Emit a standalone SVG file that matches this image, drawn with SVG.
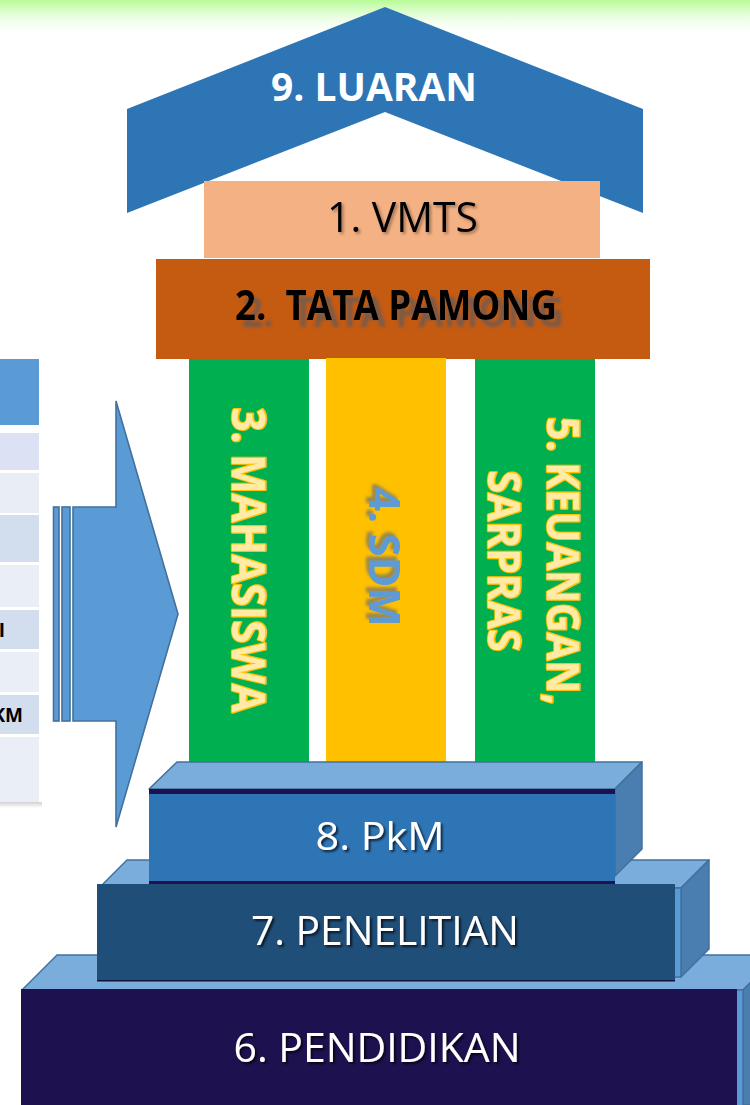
<svg xmlns="http://www.w3.org/2000/svg" width="750" height="1105" viewBox="0 0 750 1105">
  <defs>
    <linearGradient id="topGlow" x1="0" y1="0" x2="0" y2="1">
      <stop offset="0" stop-color="#b6fb96"/>
      <stop offset="1" stop-color="#ffffff" stop-opacity="0"/>
    </linearGradient>
    <linearGradient id="tblShadow" x1="0" y1="0" x2="0" y2="1">
      <stop offset="0" stop-color="#000000" stop-opacity="0.18"/>
      <stop offset="1" stop-color="#000000" stop-opacity="0"/>
    </linearGradient>
    <filter id="shadowDark" x="-10%" y="-30%" width="120%" height="160%">
      <feDropShadow dx="2" dy="2" stdDeviation="1.2" flood-color="#000000" flood-opacity="0.7"/>
    </filter>
    <filter id="shadowSoft" x="-10%" y="-30%" width="120%" height="160%">
      <feDropShadow dx="2" dy="2" stdDeviation="1.5" flood-color="#000000" flood-opacity="0.35"/>
    </filter>
    <filter id="ghostShadow" x="-10%" y="-30%" width="130%" height="180%">
      <feDropShadow dx="7" dy="7" stdDeviation="1.8" flood-color="#6b5a52" flood-opacity="0.8"/>
    </filter>
    <filter id="sdmShadow" x="-20%" y="-40%" width="140%" height="180%">
      <feDropShadow dx="-4" dy="3" stdDeviation="1.6" flood-color="#6f6f6f" flood-opacity="0.7"/>
    </filter>
  </defs>
  <style>
    .txt { font-family: "Open Sans", "Noto Sans", sans-serif; }
    .bold { font-weight: 700; }
    .white { fill: #ffffff; }
    .cubeTop { fill: #7aaddc; stroke: #41719c; stroke-width: 1.5; stroke-linejoin: round; }
    .cubeSide { fill: #4a7db0; stroke: #41719c; stroke-width: 1.5; stroke-linejoin: round; }
    .cubeFront { fill: #5b9bd5; stroke: #41719c; stroke-width: 1.5; }
    .pillarTxt { fill: #ffeaa6; stroke: #ffc000; stroke-width: 2.6; paint-order: stroke; stroke-linejoin: round; }
    .arrowShape { fill: #5b9bd5; stroke: #41719c; stroke-width: 1.6; stroke-linejoin: miter; }
  </style>

  <rect x="0" y="0" width="750" height="1105" fill="#ffffff"/>
  <rect x="0" y="0" width="750" height="38" fill="url(#topGlow)"/>

  <!-- left table fragment -->
  <g id="table-fragment">
    <rect x="0" y="359" width="39" height="66" fill="#5b9bd5"/>
    <rect x="0" y="433" width="39" height="37" fill="#dce2f3"/>
    <rect x="0" y="473" width="39" height="40" fill="#e9edf6"/>
    <rect x="0" y="515" width="39" height="47" fill="#d2deee"/>
    <rect x="0" y="565" width="39" height="42" fill="#e9eef7"/>
    <rect x="0" y="610" width="39" height="39" fill="#d2deee"/>
    <rect x="0" y="652" width="39" height="40" fill="#e9eef7"/>
    <rect x="0" y="695" width="39" height="39" fill="#d2deee"/>
    <rect x="0" y="737" width="39" height="65" fill="#e9eef7"/>
    <rect x="0" y="802" width="42" height="6" fill="url(#tblShadow)"/>
    <text class="txt bold" x="5" y="637" font-size="19" text-anchor="end" fill="#000000">I</text>
    <text class="txt bold" x="23" y="722" font-size="19" text-anchor="end" fill="#000000">KM</text>
  </g>

  <!-- block arrow -->
  <g id="connectors">
    <rect class="arrowShape" x="53.5" y="507" width="5.5" height="214"/>
    <rect class="arrowShape" x="62" y="507" width="8" height="214"/>
    <path class="arrowShape" d="M73,507 L116,507 L116,401 L178,614 L116,827 L116,721 L73,721 Z"/>
  </g>

  <!-- 9. LUARAN -->
  <g id="node-luaran">
    <polygon points="385,7 643,109 643,213 385,112 127,213 127,109" fill="#2e75b6"/>
    <text class="txt bold white" x="374" y="101" font-size="39" text-anchor="middle" textLength="206" lengthAdjust="spacingAndGlyphs">9. LUARAN</text>
  </g>

  <!-- 1. VMTS -->
  <g id="node-vmts">
    <rect x="204" y="181" width="396" height="77" fill="#f4b183"/>
    <text class="txt" x="402.5" y="232" font-size="42" text-anchor="middle" fill="#000000" filter="url(#shadowSoft)" textLength="151" lengthAdjust="spacingAndGlyphs">1. VMTS</text>
  </g>

  <!-- 2. TATA PAMONG -->
  <g id="node-tatapamong">
    <rect x="156" y="259" width="494" height="100" fill="#c55a11"/>
    <text class="txt bold" x="396" y="320" font-size="41" text-anchor="middle" fill="#000000" filter="url(#ghostShadow)" textLength="322" lengthAdjust="spacingAndGlyphs">2.&#160; TATA PAMONG</text>
  </g>

  <!-- 6. PENDIDIKAN (bottom cube) -->
  <g id="node-pendidikan">
    <polygon class="cubeTop" points="22,990 57,955 778,955 743,990"/>
    <polygon class="cubeSide" points="743,990 778,955 778,1105 743,1105"/>
    <rect class="cubeFront" x="22" y="990" width="721" height="120"/>
    <rect x="21" y="989" width="716" height="116" fill="#1e1150"/>
    <text class="txt white" x="377" y="1062" font-size="41" text-anchor="middle" filter="url(#shadowDark)" textLength="287" lengthAdjust="spacingAndGlyphs">6. PENDIDIKAN</text>
  </g>

  <!-- 7. PENELITIAN -->
  <g id="node-penelitian">
    <polygon class="cubeTop" points="99,888 127,860 709,860 681,888"/>
    <polygon class="cubeSide" points="681,888 709,860 709,949 681,977"/>
    <rect class="cubeFront" x="99" y="888" width="582" height="89"/>
    <rect x="97" y="884" width="578" height="97" fill="#1f4e79"/>
    <rect x="97" y="980" width="578" height="1.5" fill="#12103f"/>
    <text class="txt white" x="385" y="945" font-size="41" text-anchor="middle" filter="url(#shadowDark)" textLength="268" lengthAdjust="spacingAndGlyphs">7. PENELITIAN</text>
  </g>

  <!-- pillars -->
  <g id="node-mahasiswa">
    <rect x="189" y="359" width="120" height="403" fill="#00b050"/>
    <g transform="translate(248,560) rotate(90)">
      <text class="txt bold pillarTxt" x="0" y="16.5" font-size="46" text-anchor="middle" textLength="305" lengthAdjust="spacingAndGlyphs">3. MAHASISWA</text>
    </g>
  </g>

  <g id="node-sdm">
    <rect x="326" y="358" width="120" height="404" fill="#ffc000"/>
    <g transform="translate(385,557) rotate(90)">
      <text class="txt bold" x="0" y="15.5" font-size="43" text-anchor="middle" fill="#5b9bd5" filter="url(#sdmShadow)" textLength="139" lengthAdjust="spacingAndGlyphs">4. SDM</text>
    </g>
  </g>

  <g id="node-keuangan">
    <rect x="475" y="359" width="120" height="403" fill="#00b050"/>
    <g transform="translate(563,561) rotate(90)">
      <text class="txt bold pillarTxt" x="0" y="16" font-size="45" text-anchor="middle" textLength="288" lengthAdjust="spacingAndGlyphs">5. KEUANGAN,</text>
    </g>
    <g transform="translate(504,561) rotate(90)">
      <text class="txt bold pillarTxt" x="0" y="16" font-size="45" text-anchor="middle" textLength="181" lengthAdjust="spacingAndGlyphs">SARPRAS</text>
    </g>
  </g>

  <!-- 8. PkM -->
  <g id="node-pkm">
    <polygon class="cubeTop" points="149,789 177,762 642,762 615,789"/>
    <polygon class="cubeSide" points="615,789 642,762 642,849 615,876"/>
    <rect x="149" y="789" width="466" height="95" fill="#2e75b6"/>
    <rect x="149" y="789" width="466" height="5" fill="#1e1150"/>
    <rect x="149" y="881" width="466" height="3" fill="#1e1150"/>
    <text class="txt white" x="380" y="850" font-size="39" text-anchor="middle" filter="url(#shadowDark)" textLength="129" lengthAdjust="spacingAndGlyphs">8. PkM</text>
  </g>
</svg>
